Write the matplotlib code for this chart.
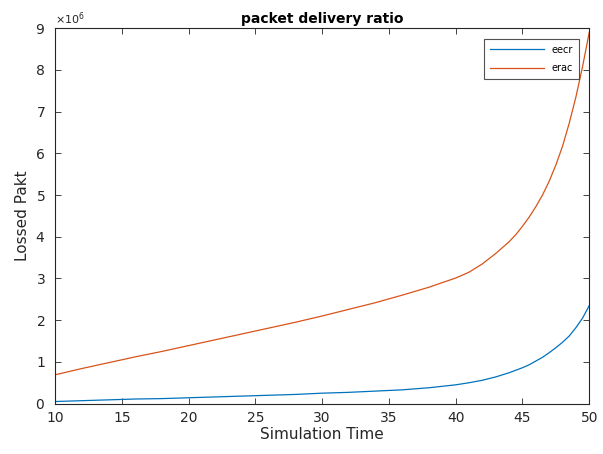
import matplotlib
matplotlib.use("Agg")
import matplotlib.pyplot as plt
from matplotlib.ticker import ScalarFormatter

# Data
sim_time = [10, 12, 14, 16, 18, 20, 22, 24, 26, 28, 30, 32, 34, 36, 38, 40,
            41, 42, 43, 44, 44.5, 45, 45.5, 46, 46.5, 47, 47.5, 48, 48.5, 49, 49.5, 50]
eecr = [0.05, 0.07, 0.09, 0.11, 0.12, 0.14, 0.16, 0.18, 0.20, 0.22, 0.25, 0.27,
        0.30, 0.33, 0.38, 0.45, 0.50, 0.56, 0.64, 0.74, 0.80, 0.86, 0.93, 1.02,
        1.11, 1.22, 1.34, 1.47, 1.62, 1.82, 2.05, 2.35]
erac = [0.69, 0.84, 0.98, 1.12, 1.25, 1.39, 1.53, 1.67, 1.81, 1.95, 2.10, 2.26,
        2.42, 2.60, 2.79, 3.01, 3.15, 3.35, 3.60, 3.88, 4.05, 4.25, 4.47, 4.72,
        5.00, 5.33, 5.72, 6.17, 6.72, 7.35, 8.08, 8.90]
scale = 1e6
series_names = ["eecr", "erac"]
x_ticks = [10, 15, 20, 25, 30, 35, 40, 45, 50]
y_ticks = [0, 1, 2, 3, 4, 5, 6, 7, 8, 9]

fig = plt.figure(figsize=(6.03, 4.54), dpi=100)
ax = fig.add_axes([0.0912, 0.111, 0.886, 0.827])

gray = "#262626"
ax.plot(sim_time, [v * scale for v in eecr], color="#0072BD", lw=0.9, label=series_names[0])
ax.plot(sim_time, [v * scale for v in erac], color="#D95319", lw=0.9, label=series_names[1])

ax.set_xlim(10, 50)
ax.set_ylim(0, 9 * scale)
ax.set_xticks(x_ticks)
ax.set_yticks([t * scale for t in y_ticks])
fmt = ScalarFormatter(useMathText=True)
fmt.set_powerlimits((0, 0))
ax.yaxis.set_major_formatter(fmt)
ax.yaxis.get_offset_text().set_fontsize(8)
ax.yaxis.get_offset_text().set_color(gray)

ax.tick_params(direction="in", top=True, right=True, labelsize=10, colors=gray,
               length=4, width=0.6)
ax.tick_params(axis="y", pad=7)
ax.tick_params(axis="x", pad=5)
for s in ax.spines.values():
    s.set_color(gray)
    s.set_linewidth(0.8)

ax.set_title("packet delivery ratio", fontsize=10, fontweight="bold", color="black", pad=4)
ax.set_xlabel("Simulation Time", fontsize=11, color=gray, labelpad=2)
ax.set_ylabel("Lossed Pakt", fontsize=11, color=gray, labelpad=4)

leg = ax.legend(loc="upper right", fontsize=7, frameon=True, fancybox=False,
                edgecolor=gray, handlelength=5.5, borderaxespad=1.1,
                labelspacing=0.9, borderpad=0.6)
leg.get_frame().set_linewidth(0.8)

fig.savefig("out.png", dpi=100)
